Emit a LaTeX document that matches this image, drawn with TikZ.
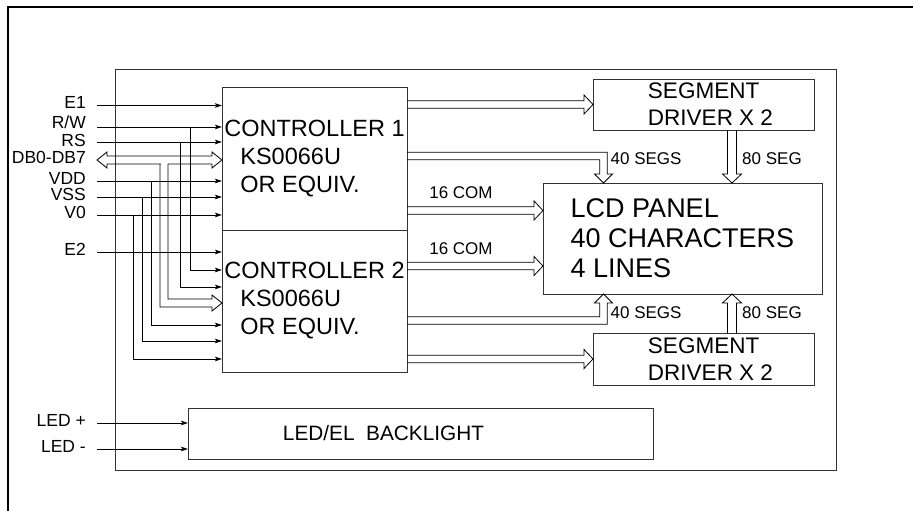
\documentclass[tikz,border=0pt]{standalone}
\usepackage{fontspec}
\setmainfont{Liberation Sans}
\usetikzlibrary{arrows.meta, calc}
\tikzset{
  unitbox/.style={rectangle, draw=black!80, line width=0.9pt, anchor=north west, inner sep=0pt, outer sep=0pt},
  ctrlbox/.style={unitbox, minimum width=185pt, align=left, font=\fontsize{23.5}{28}\selectfont},
  drvbox/.style={unitbox, minimum width=221pt, align=left, font=\fontsize{22.5}{27}\selectfont},
  siglabel/.style={anchor=east, font=\fontsize{17.5}{20}\selectfont, inner xsep=11pt, inner ysep=0pt, text height=9pt, text depth=3pt},
  buslabel/.style={font=\fontsize{17}{20}\selectfont, inner sep=1pt},
  sigline/.style={line width=0.8pt, -{Stealth[length=7pt, width=4.5pt, inset=1.5pt]}},
  busline/.style={draw=black, line width=0.8pt, line join=miter},
  frameline/.style={line width=2.5pt},
}
% bus pointing east, from #1 to tip #2
\newcommand{\hbus}[2]{%
  \draw[busline] ($(#1)+(0,-3.8)$) -- ($(#2)+(-9,-3.8)$) -- ($(#2)+(-9,-9.5)$) -- (#2)
    -- ($(#2)+(-9,9.5)$) -- ($(#2)+(-9,3.8)$) -- ($(#1)+(0,3.8)$);}
% vertical bus, #3 = head offset (-9 down, 9 up)
\newcommand{\vbus}[3]{%
  \draw[busline] ($(#1)+(-4.5,0)$) -- ($(#2)+(-4.5,#3)$) -- ($(#2)+(-9.5,#3)$) -- (#2)
    -- ($(#2)+(9.5,#3)$) -- ($(#2)+(4.5,#3)$) -- ($(#1)+(4.5,0)$);}
% bus east then down
\newcommand{\bbusdown}[2]{%
  \coordinate (#1-c) at (#1 -| #2);
  \draw[busline] ($(#1)+(0,-3.8)$) -- ($(#1-c)+(3.8,-3.8)$) -- ($(#2)+(3.8,-9)$) -- ($(#2)+(9,-9)$) -- (#2)
    -- ($(#2)+(-9,-9)$) -- ($(#2)+(-3.8,-9)$) -- ($(#1-c)+(-3.8,3.8)$) -- ($(#1)+(0,3.8)$);}
% bus east then up
\newcommand{\bbusup}[2]{%
  \coordinate (#1-c) at (#1 -| #2);
  \draw[busline] ($(#1)+(0,3.8)$) -- ($(#1-c)+(3.8,3.8)$) -- ($(#2)+(3.8,9)$) -- ($(#2)+(9,9)$) -- (#2)
    -- ($(#2)+(-9,9)$) -- ($(#2)+(-3.8,9)$) -- ($(#1-c)+(-3.8,-3.8)$) -- ($(#1)+(0,-3.8)$);}
\begin{document}
\begin{tikzpicture}[x=1pt, y=-1pt]
\useasboundingbox (0,0) rectangle (913,511);
\clip (0,0) rectangle (913,511);
\draw[frameline] (8,530) -- (8,7) -- (930,7);

% blocks
\node[unitbox, minimum width=721pt, minimum height=401pt] (module) at (115,69) {};
\node[ctrlbox, minimum height=143pt] (ctrlA) at (222,87) {CONTROLLER 1\\\hspace*{16pt}KS0066U\\\hspace*{16pt}OR EQUIV.};
\node[ctrlbox, minimum height=142pt] (ctrlB) at (222,230) {CONTROLLER 2\\\hspace*{16pt}KS0066U\\\hspace*{16pt}OR EQUIV.};
\node[drvbox, minimum height=51pt] (segA) at (593,79) {\hspace*{14pt}SEGMENT\\\hspace*{14pt}DRIVER X 2};
\node[drvbox, minimum height=52pt] (segB) at (593,333) {\hspace*{14pt}SEGMENT\\\hspace*{14pt}DRIVER X 2};
\node[unitbox, minimum width=279pt, minimum height=111pt, align=left, font=\fontsize{27}{30}\selectfont] (lcd) at (543,183) {LCD PANEL\\40 CHARACTERS\\4 LINES};
\node[unitbox, minimum width=465pt, minimum height=51pt] (backlight) at (188,408) {};
\node[font=\fontsize{20.8}{24}\selectfont, xshift=-37pt] (bltext) at (backlight.center) {LED/EL\ \ BACKLIGHT};

% input pins
\node[siglabel] (e1) at (97,105.5) {E1};
\node[siglabel, text height=7pt, text depth=5pt] (rw) at (97,127) {R/W};
\node[siglabel, text height=10pt, text depth=2pt] (rs) at (97,142) {RS};
\node[siglabel] (db) at (97,160) {DB0-DB7};
\node[siglabel] (vdd) at (97,181) {VDD};
\node[siglabel] (vss) at (97,197) {VSS};
\node[siglabel] (vzero) at (97,215) {V0};
\node[siglabel] (e2) at (97,252) {E2};
\node[siglabel] (ledp) at (97,423) {LED +};
\node[siglabel] (ledm) at (97,449) {LED -};

% controller 2 inputs
\coordinate (rwB) at ($(ctrlB.north west)+(0,40)$);
\coordinate (rsB) at ($(ctrlB.north west)+(0,57)$);
\coordinate (dbB) at ($(ctrlB.north west)+(0,73)$);
\coordinate (vddB) at ($(ctrlB.north west)+(0,95)$);
\coordinate (vssB) at ($(ctrlB.north west)+(0,111)$);
\coordinate (vzeroB) at ($(ctrlB.north west)+(0,129)$);

% data bus
\coordinate (dbtip) at (ctrlA.west |- db.east);
\draw[busline] (db.east) -- ($(db.east)+(10,-8)$) -- ($(db.east)+(10,-4)$) -- ($(dbtip)+(-10,-4)$) -- ($(dbtip)+(-10,-8)$) -- (dbtip)
  -- ($(dbtip)+(-10,8)$) -- ($(dbtip)+(-10,4)$) -- ($(db.east)+(10,4)$) -- ($(db.east)+(10,8)$) -- cycle;
\fill[white] ($(db.east)+(63.5,2.5)$) rectangle ($(db.east)+(70.5,5.5)$);
\draw[busline] ($(db.east)+(63,4)$) |- ($(dbB)+(-10,4)$) -- ($(dbB)+(-10,8)$) -- (dbB) -- ($(dbB)+(-10,-8)$) -- ($(dbB)+(-10,-4)$) -| ($(db.east)+(71,4)$);

% output buses
\coordinate (busA0) at (ctrlA.east |- segA.west);
\hbus{busA0}{segA.west}
\coordinate (busB0) at (ctrlB.east |- segB.west);
\hbus{busB0}{segB.west}
\coordinate (comA) at ($(ctrlA.east)+(0,52)$);
\coordinate (comAtip) at (lcd.west |- comA);
\hbus{comA}{comAtip}
\coordinate (comB) at ($(ctrlB.east)+(0,-35)$);
\coordinate (comBtip) at (lcd.west |- comB);
\hbus{comB}{comBtip}
\coordinate (segsA) at ($(ctrlA.east)+(0,-2.5)$);
\coordinate (segsAtip) at ($(lcd.north west)+(60.5,0)$);
\bbusdown{segsA}{segsAtip}
\coordinate (segsB) at ($(ctrlB.east)+(0,19.5)$);
\coordinate (segsBtip) at ($(lcd.south west)+(60.5,0)$);
\bbusup{segsB}{segsBtip}
\coordinate (drvA) at ($(segA.south)+(28.5,0)$);
\coordinate (drvAtip) at (lcd.north -| drvA);
\vbus{drvA}{drvAtip}{-9}
\coordinate (drvB) at ($(segB.north)+(28.5,0)$);
\coordinate (drvBtip) at (lcd.south -| drvB);
\vbus{drvB}{drvBtip}{9}

\node[buslabel] (comAlbl) at ($(comA)+(54,-17.5)$) {16 COM};
\node[buslabel] (comBlbl) at ($(comB)+(54,-17.5)$) {16 COM};
\node[buslabel, anchor=west] (segsAlbl) at ($(segsAtip)+(6,-24)$) {40 SEGS};
\node[buslabel, anchor=west] (segsBlbl) at ($(segsBtip)+(6,19)$) {40 SEGS};
\node[buslabel, anchor=west] (drvAlbl) at ($(drvAtip)+(9,-24)$) {80 SEG};
\node[buslabel, anchor=west] (drvBlbl) at ($(drvBtip)+(9,19)$) {80 SEG};

% signal lines
\draw[sigline] (e1.east) -- (ctrlA.west |- e1.east);
\draw[sigline] (rw.east) -- (ctrlA.west |- rw.east);
\draw[sigline] ($(rw.east)+(93,0)$) |- (rwB);
\draw[sigline] (rs.east) -- (ctrlA.west |- rs.east);
\draw[sigline] ($(rs.east)+(83,0)$) |- (rsB);
\draw[sigline] (vdd.east) -- (ctrlA.west |- vdd.east);
\draw[sigline] ($(vdd.east)+(54,0)$) |- (vddB);
\draw[sigline] (vss.east) -- (ctrlA.west |- vss.east);
\draw[sigline] ($(vss.east)+(45,0)$) |- (vssB);
\draw[sigline] (vzero.east) -- (ctrlA.west |- vzero.east);
\draw[sigline] ($(vzero.east)+(36,0)$) |- (vzeroB);
\draw[sigline] (e2.east) -- (ctrlB.west |- e2.east);
\draw[sigline] (ledp.east) -- (backlight.west |- ledp.east);
\draw[sigline] (ledm.east) -- (backlight.west |- ledm.east);
\end{tikzpicture}
\end{document}
